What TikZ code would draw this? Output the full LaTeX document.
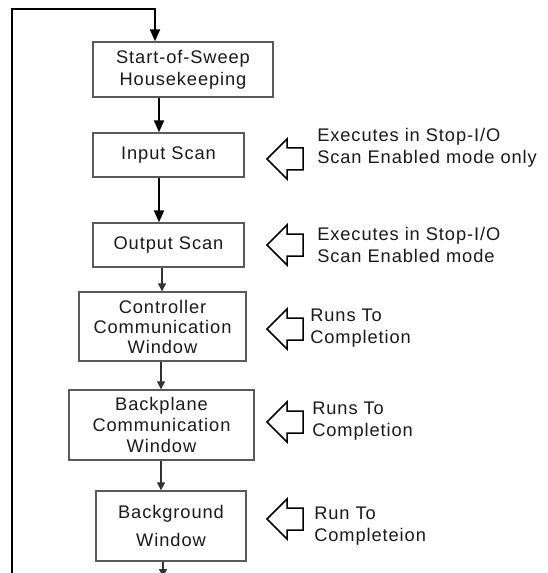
\documentclass[tikz,border=0pt]{standalone}
\usepackage{fontspec}
\setmainfont{Liberation Sans}[LetterSpace=5]
\usetikzlibrary{arrows.meta}
\definecolor{boxline}{HTML}{5A5A5A}
\definecolor{txt}{HTML}{1A1A1A}
\def\u{0.75pt}
\tikzset{
  x=0.75pt, y=-0.75pt,
  stepbox/.style={draw=boxline, line width=1.4*\u, fill=white, inner sep=0pt, align=center,
    text=txt, font=\fontsize{13.7pt}{16.5pt}\selectfont},
  thickarr/.style={line width=2*\u, -{Triangle[length=12*\u,width=10*\u]}},
  thinarr/.style={draw=black!80, line width=1.3*\u, -{Triangle[length=8*\u,width=8*\u]}},
  note/.style={anchor=base west, align=left, inner sep=0pt, text=txt,
    font=\fontsize{13.7pt}{16.5pt}\selectfont},
  blockarr/.pic={\draw[line width=1.5*\u, fill=white] (0,0) -- (20,-20) -- (20,-11) -- (36,-11)
     -- (36,11) -- (20,11) -- (20,20) -- cycle;}
}
\begin{document}
\begin{tikzpicture}
\clip (0,0) rectangle (548,573);
\fill[white] (0,0) rectangle (548,573);

% boxes
\node[stepbox, minimum width=180*\u, minimum height=55*\u] (b1) at (183,69.5)
  {Start-of-Sweep\\Housekeeping};
\node[stepbox, minimum width=151*\u, minimum height=44*\u] (b2) at (168.5,155) {Input Scan};
\node[stepbox, minimum width=151*\u, minimum height=44*\u] (b3) at (168.5,245) {Output Scan};
\node[stepbox, minimum width=167*\u, minimum height=69*\u] (b4) at (162.5,326.5)
  {Controller\\[-2*\u]Communication\\[-2*\u]Window};
\node[stepbox, minimum width=185*\u, minimum height=70*\u] (b5) at (161.5,425)
  {Backplane\\[-1*\u]Communication\\[-1*\u]Window};
\node[stepbox, minimum width=150*\u, minimum height=70*\u] (b6) at (171,526)
  {Background\\[6*\u]Window};

% x positions of connectors
\coordinate (xa) at (155,0);
\coordinate (xb) at (159,0);
\coordinate (xc) at (162,0);
\coordinate (xd) at (161,0);
\coordinate (xe) at (163,0);
\coordinate (loopbot) at (12,576);
\coordinate (loopcorner) at (12,9);
\coordinate (loopend) at (163,577);

% loop
\draw[thickarr] (loopbot) -- (loopcorner) -- (loopcorner -| xa) -- (b1.north -| xa);
\draw[thickarr] (b1.south -| xb) -- (b2.north -| xb);
\draw[thickarr] (b2.south -| xb) -- (b3.north -| xb);
\draw[thinarr] (b3.south -| xc) -- (b4.north -| xc);
\draw[thinarr] (b4.south -| xd) -- (b5.north -| xd);
\draw[thinarr] (b5.south -| xd) -- (b6.north -| xd);
\draw[thinarr] (b6.south -| xe) -- (loopend);

% block arrows
\pic at (267,159) {blockarr};
\pic at (267,245) {blockarr};
\pic at (267,329) {blockarr};
\pic at (267,422) {blockarr};
\pic at (267,519) {blockarr};

% notes (anchor at baseline of the last line)
\node[note] (n1) at (317,164) {Executes in Stop-I/O\\Scan Enabled mode only};
\node[note] (n2) at (317,262) {Executes in Stop-I/O\\Scan Enabled mode};
\node[note] (n3) at (310,343) {Runs To\\Completion};
\node[note] (n4) at (312,436) {Runs To\\Completion};
\node[note] (n5) at (314,541) {Run To\\Completeion};
\end{tikzpicture}
\end{document}
